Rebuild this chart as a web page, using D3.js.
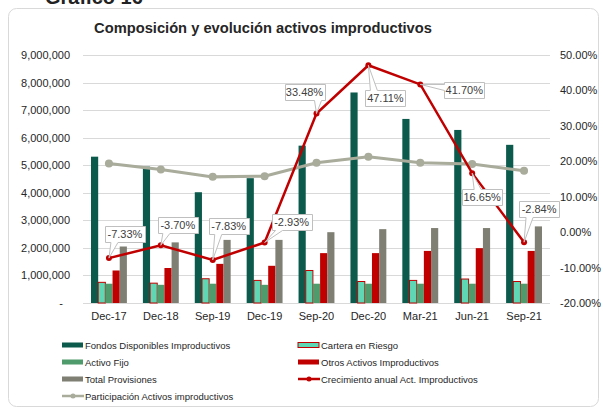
<!DOCTYPE html>
<html>
<head>
<meta charset="utf-8">
<script src="https://cdn.jsdelivr.net/npm/d3@7/dist/d3.min.js"></script>
<style>
  body { margin: 0; background: #fff; }
  svg { font-family: "Liberation Sans", Arial, sans-serif; }
</style>
</head>
<body>
<script>
var width = 603;
var height = 408;

// datos
var categories = ['Dec-17', 'Dec-18', 'Sep-19', 'Dec-19', 'Sep-20', 'Dec-20', 'Mar-21', 'Jun-21', 'Sep-21'];
var fondos = [5310000, 4950000, 4020000, 4530000, 5710000, 7640000, 6680000, 6280000, 5740000];
var cartera = [750000, 720000, 880000, 820000, 1180000, 780000, 820000, 870000, 780000];
var activoFijo = [700000, 660000, 700000, 660000, 700000, 700000, 700000, 700000, 700000];
var otros = [1180000, 1270000, 1420000, 1350000, 1810000, 1810000, 1890000, 1990000, 1890000];
var provisiones = [2050000, 2200000, 2290000, 2290000, 2570000, 2680000, 2720000, 2720000, 2780000];
var crecimiento = [-7.33, -3.70, -7.83, -2.93, 33.48, 47.11, 41.70, 16.65, -2.84];
var participacion = [19.4, 17.7, 15.6, 15.8, 19.6, 21.3, 19.6, 19.2, 17.3];
var leftTicks = [0, 1000000, 2000000, 3000000, 4000000, 5000000, 6000000, 7000000, 8000000, 9000000];
var rightTicks = [-20, -10, 0, 10, 20, 30, 40, 50];

// posicion de las etiquetas (centro de la caja respecto al punto)
var labelOffset = [[16, -24], [17, -20], [16, -34], [27, -21], [-12, -22], [17, 33], [44, 6], [10, 24], [15, -33]];

var series = [
  {name: 'Fondos Disponibles Improductivos', values: fondos, color: '#0b5a4c'},
  {name: 'Cartera en Riesgo', values: cartera, color: '#5fd6b4', stroke: '#c00000'},
  {name: 'Activo Fijo', values: activoFijo, color: '#4f9b6b'},
  {name: 'Otros Activos Improductivos', values: otros, color: '#c00000'},
  {name: 'Total Provisiones', values: provisiones, color: '#7f7f73'}
];

var pct = function (d) { return (d < 0 ? '-' : '') + Math.abs(d).toFixed(2) + '%'; };

var svg = d3.select('body').append('svg')
  .attr('width', width)
  .attr('height', height);

svg.append('text')
  .attr('x', 45).attr('y', 4)
  .style('font-size', '20px').style('font-weight', 'bold')
  .style('fill', '#222')
  .text('Gráfico 16');

svg.append('rect')
  .attr('x', 8.5).attr('y', 8.5)
  .attr('width', 590).attr('height', 398)
  .attr('rx', 8)
  .style('fill', 'none')
  .style('stroke', '#d9d9d9');

svg.append('text')
  .attr('x', 263).attr('y', 33)
  .attr('text-anchor', 'middle')
  .style('font-size', '14.7px').style('font-weight', 'bold')
  .style('fill', '#262626')
  .text('Composición y evolución activos improductivos');

var x = d3.scaleBand().domain(categories).range([83, 550]).padding(0);
var xs = d3.scaleBand().domain(d3.range(series.length)).range([8, x.bandwidth() - 8]).padding(0);
var yL = d3.scaleLinear().domain([0, 9000000]).range([303, 55]);
var yR = d3.scaleLinear().domain([-20, 50]).range([303, 55]);

// lineas de la grilla
svg.append('g').selectAll('line')
  .data(leftTicks)
  .enter().append('line')
  .attr('x1', 83).attr('x2', 550)
  .attr('y1', function (d) { return Math.round(yL(d)) + 0.5; })
  .attr('y2', function (d) { return Math.round(yL(d)) + 0.5; })
  .style('stroke', '#d9d9d9');

// ejes
var fmt = d3.format(',');
var axL = svg.append('g')
  .attr('transform', 'translate(83,0)')
  .call(d3.axisLeft(yL).tickValues(leftTicks).tickSize(0).tickPadding(13)
    .tickFormat(function (d) { return d === 0 ? '-' : fmt(d); }));
axL.select('.domain').remove();
axL.selectAll('text').style('font-size', '11px').style('fill', '#262626').style('font-family', null);
axL.selectAll('.tick').filter(function (d) { return d === 0; }).select('text').attr('x', -20);

var axR = svg.append('g')
  .attr('transform', 'translate(550,0)')
  .call(d3.axisRight(yR).tickValues(rightTicks).tickSize(0).tickPadding(10).tickFormat(pct));
axR.select('.domain').remove();
axR.selectAll('text').style('font-size', '11px').style('fill', '#262626').style('font-family', null);

var axB = svg.append('g')
  .attr('transform', 'translate(0,303)')
  .call(d3.axisBottom(x).tickSize(0).tickPadding(9));
axB.select('.domain').remove();
axB.selectAll('text').style('font-size', '11px').style('fill', '#262626').style('font-family', null);

// barras
series.forEach(function (s, i) {
  svg.append('g').selectAll('rect')
    .data(s.values)
    .enter().append('rect')
    .attr('x', function (d, j) { return x(categories[j]) + xs(i); })
    .attr('y', function (d) { return yL(d); })
    .attr('width', xs.bandwidth())
    .attr('height', function (d) { return yL(0) - yL(d); })
    .style('fill', s.color)
    .style('stroke', s.stroke || 'none')
    .style('stroke-width', 1);
});

var cx = function (d, j) { return x(categories[j]) + x.bandwidth() / 2; };

// participacion
var lineP = d3.line().x(cx).y(function (d) { return yR(d); });
svg.append('path')
  .datum(participacion)
  .attr('d', lineP)
  .style('fill', 'none').style('stroke', '#a9ab9b').style('stroke-width', 3);
svg.append('g').selectAll('circle')
  .data(participacion)
  .enter().append('circle')
  .attr('cx', cx).attr('cy', function (d) { return yR(d); })
  .attr('r', 4)
  .style('fill', '#a9ab9b');

// crecimiento
svg.append('path')
  .datum(crecimiento)
  .attr('d', lineP)
  .style('fill', 'none').style('stroke', '#c00000').style('stroke-width', 2.5);
svg.append('g').selectAll('circle')
  .data(crecimiento)
  .enter().append('circle')
  .attr('cx', cx).attr('cy', function (d) { return yR(d); })
  .attr('r', 3)
  .style('fill', '#c00000');

// etiquetas con globo
function callout(bx, by, w, h, px, py) {
  var a, b;
  if (py > by + h) {
    a = Math.max(bx + 3, Math.min(px + 2, bx + w - 11)); b = a + 7;
    return 'M' + bx + ',' + by + 'H' + (bx + w) + 'V' + (by + h) + 'H' + b + 'L' + px + ',' + py + 'L' + a + ',' + (by + h) + 'H' + bx + 'Z';
  } else if (py < by) {
    a = Math.max(bx + 3, Math.min(px + 2, bx + w - 11)); b = a + 7;
    return 'M' + bx + ',' + by + 'H' + a + 'L' + px + ',' + py + 'L' + b + ',' + by + 'H' + (bx + w) + 'V' + (by + h) + 'H' + bx + 'Z';
  }
  a = by + 2; b = by + 8;
  return 'M' + bx + ',' + by + 'H' + (bx + w) + 'V' + (by + h) + 'H' + bx + 'V' + b + 'L' + px + ',' + py + 'L' + bx + ',' + a + 'Z';
}

var lab = svg.append('g').selectAll('g')
  .data(crecimiento)
  .enter().append('g');
lab.append('path')
  .attr('d', function (d, j) {
    var px = cx(d, j), py = yR(d);
    var w = 40, h = 16;
    var bx = Math.round(px + labelOffset[j][0] - w / 2) + 0.5;
    var by = Math.round(py + labelOffset[j][1] - h / 2) + 0.5;
    return callout(bx, by, w, h, px, py);
  })
  .style('fill', '#fff').style('stroke', '#bfbfbf').style('stroke-width', 1);
lab.append('text')
  .attr('x', function (d, j) { return cx(d, j) + labelOffset[j][0]; })
  .attr('y', function (d, j) { return yR(d) + labelOffset[j][1] + 4; })
  .attr('text-anchor', 'middle')
  .style('font-size', '11px').style('fill', '#404040')
  .text(pct);

// leyenda
var legendItems = [
  {name: series[0].name, type: 'bar', color: series[0].color},
  {name: series[1].name, type: 'bar', color: series[1].color, stroke: '#c00000'},
  {name: series[2].name, type: 'bar', color: series[2].color},
  {name: series[3].name, type: 'bar', color: series[3].color},
  {name: series[4].name, type: 'bar', color: series[4].color},
  {name: 'Crecimiento anual Act. Improductivos', type: 'line', color: '#c00000'},
  {name: 'Participación Activos improductivos', type: 'line', color: '#a9ab9b'}
];
var leg = svg.append('g').selectAll('g')
  .data(legendItems)
  .enter().append('g')
  .attr('transform', function (d, i) {
    return 'translate(' + (i % 2 === 0 ? 62 : 298) + ',' + (345 + Math.floor(i / 2) * 17) + ')';
  });
leg.filter(function (d) { return d.type === 'bar'; })
  .append('rect')
  .attr('x', 0).attr('y', -2.5).attr('width', 21).attr('height', 5)
  .style('fill', function (d) { return d.color; })
  .style('stroke', function (d) { return d.stroke || 'none'; });
leg.filter(function (d) { return d.type === 'line'; })
  .append('line')
  .attr('x1', 0).attr('x2', 22).attr('y1', 0).attr('y2', 0)
  .style('stroke', function (d) { return d.color; }).style('stroke-width', 2.5);
leg.filter(function (d) { return d.type === 'line'; })
  .append('circle')
  .attr('cx', 11).attr('cy', 0).attr('r', 2.5)
  .style('fill', function (d) { return d.color; });
leg.append('text')
  .attr('x', 23).attr('y', 4)
  .style('font-size', '9.5px').style('fill', '#262626')
  .text(function (d) { return d.name; });
</script>
</body>
</html>
